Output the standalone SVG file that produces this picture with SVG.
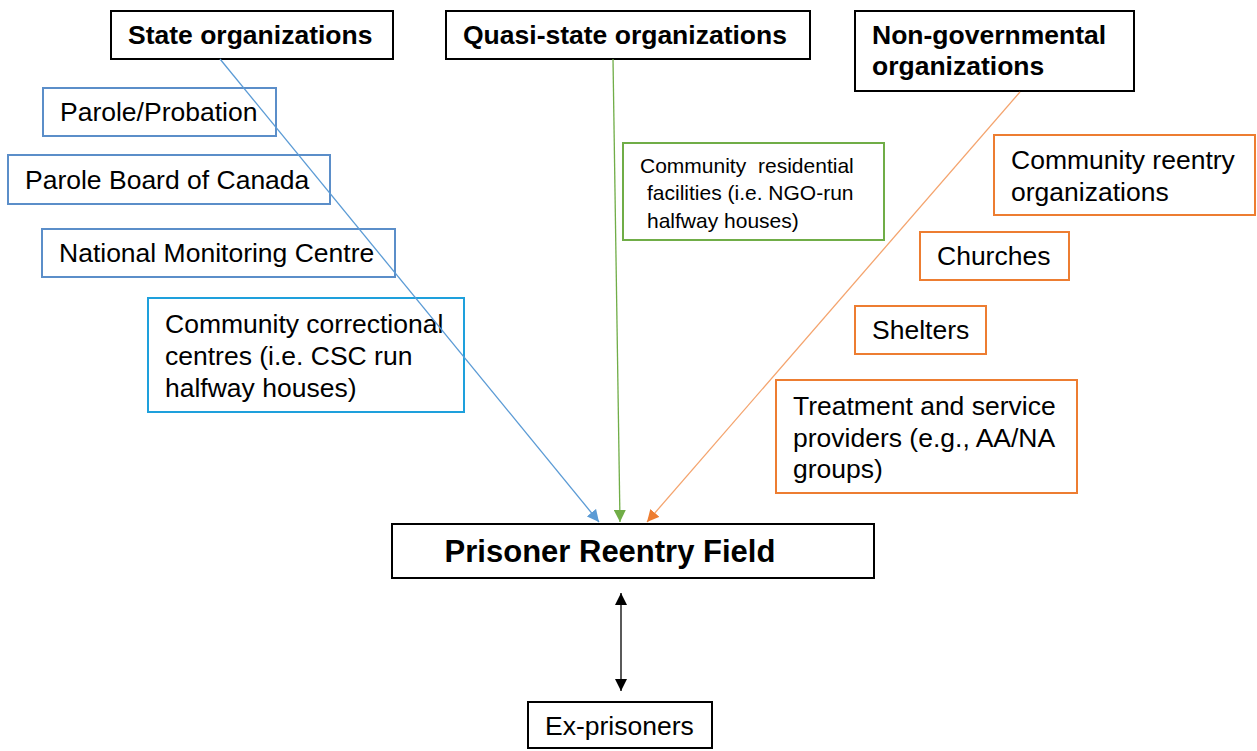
<svg xmlns="http://www.w3.org/2000/svg" width="1257" height="751" viewBox="0 0 1257 751">
<style>
text{font-family:"Liberation Sans",Arial,sans-serif;fill:#000}
.h{font-weight:bold;font-size:26.5px}
.t{font-size:26.5px}
.s{font-size:21px}
.bk{fill:#fff;stroke:#000;stroke-width:2}
.bl{fill:#fff;stroke:#5b8ec9;stroke-width:2}
.cy{fill:#fff;stroke:#1ea0dc;stroke-width:2}
.gr{fill:#fff;stroke:#70ad47;stroke-width:2}
.or{fill:#fff;stroke:#ed7d31;stroke-width:2}
</style>
<defs>
<marker id="ab" viewBox="0 0 10 10" refX="10" refY="5" markerWidth="12" markerHeight="12" markerUnits="userSpaceOnUse" orient="auto"><path d="M0,0L10,5L0,10z" fill="#5b9bd5"/></marker>
<marker id="ag" viewBox="0 0 10 10" refX="10" refY="5" markerWidth="12" markerHeight="12" markerUnits="userSpaceOnUse" orient="auto"><path d="M0,0L10,5L0,10z" fill="#70ad47"/></marker>
<marker id="ao" viewBox="0 0 10 10" refX="10" refY="5" markerWidth="12" markerHeight="12" markerUnits="userSpaceOnUse" orient="auto"><path d="M0,0L10,5L0,10z" fill="#ed7d31"/></marker>
<marker id="ak" viewBox="0 0 10 10" refX="10" refY="5" markerWidth="12" markerHeight="12" markerUnits="userSpaceOnUse" orient="auto-start-reverse"><path d="M0,0L10,5L0,10z" fill="#000"/></marker>
</defs>

<g id="state">
<rect class="bk" x="111" y="11" width="282" height="48"/>
<text class="h" x="128" y="44">State organizations</text>
</g>
<g id="quasi">
<rect class="bk" x="446" y="11" width="364" height="48"/>
<text class="h" x="463" y="44">Quasi-state organizations</text>
</g>
<g id="ngo">
<rect class="bk" x="855" y="11" width="279" height="80"/>
<text class="h" x="872" y="44">Non-governmental</text>
<text class="h" x="872" y="75">organizations</text>
</g>

<g id="parole">
<rect class="bl" x="43" y="88" width="233" height="48"/>
<text class="t" x="60" y="121">Parole/Probation</text>
</g>
<g id="pbc">
<rect class="bl" x="8" y="155" width="322" height="49"/>
<text class="t" x="25" y="189">Parole Board of Canada</text>
</g>
<g id="nmc">
<rect class="bl" x="42" y="229" width="353" height="48"/>
<text class="t" x="59" y="262">National Monitoring Centre</text>
</g>
<g id="ccc">
<rect class="cy" x="148" y="298" width="316" height="114"/>
<text class="t" x="165" y="333">Community correctional</text>
<text class="t" x="165" y="365">centres (i.e. CSC run</text>
<text class="t" x="165" y="397">halfway houses)</text>
</g>

<g id="crf">
<rect class="gr" x="623" y="143" width="261" height="97"/>
<text class="s" x="640" y="173" word-spacing="6">Community residential</text>
<text class="s" x="647" y="200">facilities (i.e. NGO-run</text>
<text class="s" x="647" y="228">halfway houses)</text>
</g>

<g id="cro">
<rect class="or" x="994" y="135" width="261" height="80"/>
<text class="t" x="1011" y="169">Community reentry</text>
<text class="t" x="1011" y="201">organizations</text>
</g>
<g id="churches">
<rect class="or" x="920" y="232" width="149" height="48"/>
<text class="t" x="937" y="265">Churches</text>
</g>
<g id="shelters">
<rect class="or" x="855" y="306" width="131" height="48"/>
<text class="t" x="872" y="339">Shelters</text>
</g>
<g id="treatment">
<rect class="or" x="776" y="380" width="301" height="113"/>
<text class="t" x="793" y="415">Treatment and service</text>
<text class="t" x="793" y="447">providers (e.g., AA/NA</text>
<text class="t" x="793" y="478">groups)</text>
</g>

<g id="field">
<rect class="bk" x="392" y="524" width="482" height="54"/>
<text class="h" x="610" y="562" text-anchor="middle" style="font-size:31px">Prisoner Reentry Field</text>
</g>
<g id="ex">
<rect class="bk" x="528" y="702" width="184" height="46"/>
<text class="t" x="545" y="735">Ex-prisoners</text>
</g>

<g id="connectors" fill="none">
<line x1="220" y1="59" x2="599" y2="522" stroke="#5b9bd5" stroke-width="1.3" marker-end="url(#ab)"/>
<line x1="613" y1="59" x2="620" y2="522" stroke="#70ad47" stroke-width="1.3" marker-end="url(#ag)"/>
<line x1="1020" y1="92" x2="647" y2="522" stroke="#f4a46e" stroke-width="1.3" marker-end="url(#ao)"/>
<line x1="621" y1="593" x2="621" y2="691" stroke="#000" stroke-width="1.3" marker-start="url(#ak)" marker-end="url(#ak)"/>
</g>
</svg>
